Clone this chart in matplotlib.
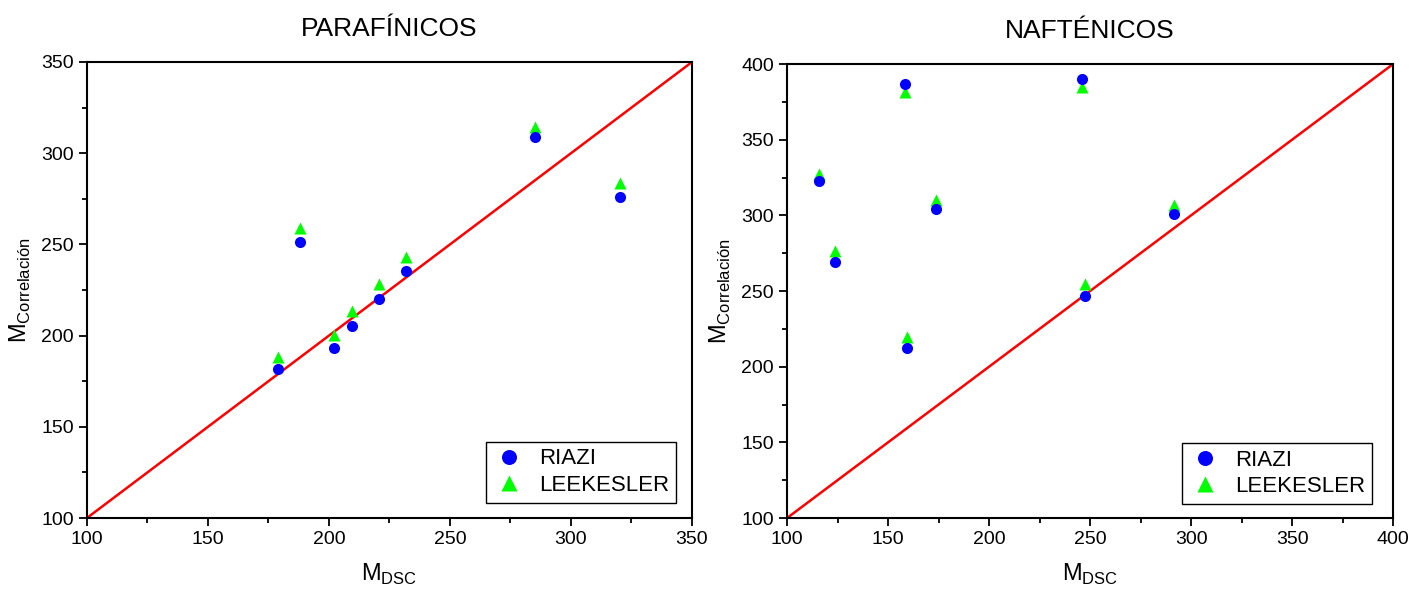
import numpy as np
import matplotlib.pyplot as plt
from matplotlib.ticker import MultipleLocator

plt.rcParams['font.family'] = ['Liberation Sans', 'DejaVu Sans']
plt.rcParams['mathtext.fontset'] = 'custom'
plt.rcParams['mathtext.rm'] = 'Liberation Sans'

# parafinicos
par_dsc = [178.9, 188.1, 202.1, 209.4, 220.8, 231.7, 285.1, 320.4]
par_riazi = [181.5, 251.1, 193.2, 205.3, 220.2, 235.4, 309.1, 275.8]
par_lk = [188.5, 258.8, 200.1, 213.5, 228.1, 243.3, 314.5, 283.8]

# naftenicos
naf_dsc = [116.0, 123.6, 158.4, 159.4, 173.9, 245.9, 247.4, 291.7]
naf_riazi = [322.7, 268.9, 387.0, 212.3, 304.2, 390.1, 246.5, 301.1]
naf_lk = [327.1, 276.6, 381.7, 219.6, 309.9, 384.6, 254.4, 307.0]

fig = plt.figure(figsize=(14.23, 5.95), dpi=100)
ax1 = fig.add_axes([0.0611, 0.1294, 0.4252, 0.7664])
ax2 = fig.add_axes([0.5531, 0.1294, 0.4259, 0.7630])


def panel(ax, x, r, lk, lim, title, anchor):
    ax.plot(lim, lim, color='red', lw=1.8, zorder=1)
    ax.plot(x, r, 'o', color='blue', ms=8, mec='none', label='RIAZI', zorder=3)
    ax.plot(x, lk, '^', color='#00ff00', ms=9, mec='none', label='LEEKESLER', zorder=2)
    ax.set_xlim(lim)
    ax.set_ylim(lim)
    ax.xaxis.set_major_locator(MultipleLocator(50))
    ax.xaxis.set_minor_locator(MultipleLocator(25))
    ax.yaxis.set_major_locator(MultipleLocator(50))
    ax.yaxis.set_minor_locator(MultipleLocator(25))
    ax.tick_params(which='both', direction='out', top=False, right=False, width=1.3)
    ax.tick_params(which='major', length=6, labelsize=14)
    ax.tick_params(which='minor', length=3.5)
    for s in ax.spines.values():
        s.set_linewidth(1.5)
    ax.set_title(title, fontsize=19, pad=19)
    ax.set_xlabel('M$_{\\rm DSC}$', fontsize=17, labelpad=10)
    ax.set_ylabel('M$_{\\rm Correlación}$', fontsize=17, labelpad=6)
    leg = ax.legend(loc='lower right', bbox_to_anchor=anchor, borderaxespad=0,
                    fontsize=16, markerscale=1.35, fancybox=False, framealpha=1,
                    edgecolor='black', handletextpad=0.6, borderpad=0.3,
                    handlelength=1.5, labelspacing=0.25)
    leg.get_frame().set_linewidth(1.0)


panel(ax1, par_dsc, par_riazi, par_lk, [100, 350], 'PARAFÍNICOS', (0.974, 0.034))
panel(ax2, naf_dsc, naf_riazi, naf_lk, [100, 400], 'NAFTÉNICOS', (0.965, 0.031))

fig.savefig('out.png', dpi=100)
